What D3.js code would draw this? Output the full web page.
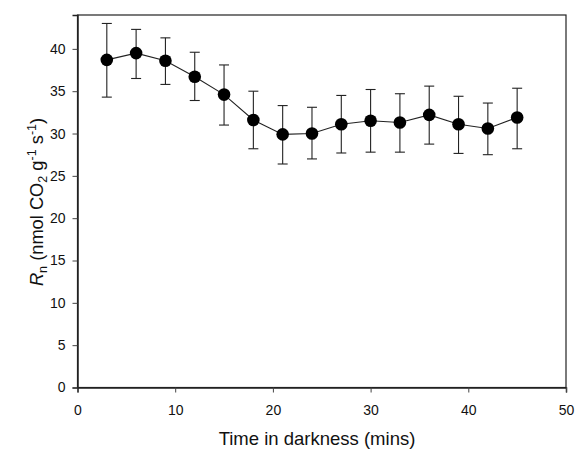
<!DOCTYPE html>
<html>
<head>
<meta charset="utf-8">
<script src="https://cdn.jsdelivr.net/npm/d3@7"></script>
<style>
  body { margin: 0; background: #fff; }
  svg text { font-family: "Liberation Sans", Arial, sans-serif; fill: #111; }
</style>
</head>
<body>
<div class="chart"></div>
<script>
const times = [3, 6, 9, 12, 15, 18, 21, 24, 27, 30, 33, 36, 39, 42, 45];
const rates = [38.7, 39.5, 38.6, 36.7, 34.6, 31.6, 29.9, 30.0, 31.1, 31.5, 31.3, 32.2, 31.1, 30.6, 31.9];
const errHigh = [43.0, 42.3, 41.3, 39.6, 38.1, 35.0, 33.3, 33.1, 34.5, 35.2, 34.7, 35.6, 34.4, 33.6, 35.35];
const errLow = [34.3, 36.5, 35.8, 33.9, 31.0, 28.2, 26.4, 27.0, 27.7, 27.8, 27.8, 28.75, 27.65, 27.5, 28.2];
const xTicks = [0, 10, 20, 30, 40, 50];
const yTicks = [0, 5, 10, 15, 20, 25, 30, 35, 40];

const width = 575, height = 449;
const margin = { top: 15, right: 9, bottom: 61.5, left: 77.5 };

const svg = d3.select(".chart")
  .append("svg")
  .attr("width", width)
  .attr("height", height);

const x = d3.scaleLinear()
  .domain([0, 50])
  .range([margin.left, width - margin.right]);

const y = d3.scaleLinear()
  .domain([0, 44])
  .range([height - margin.bottom, margin.top]);

const data = times.map((t, i) => ({ t: t, v: rates[i], hi: errHigh[i], lo: errLow[i] }));

// frame
svg.append("rect")
  .attr("x", x(0))
  .attr("y", y(44))
  .attr("width", x(50) - x(0))
  .attr("height", y(0) - y(44))
  .attr("fill", "none")
  .attr("stroke", "#222")
  .attr("stroke-width", 1.2);

// axes
svg.append("g")
  .attr("transform", "translate(0," + y(0) + ")")
  .call(d3.axisBottom(x).tickValues(xTicks).tickSize(5).tickPadding(13))
  .call(g => g.select(".domain").attr("stroke", "#222").attr("stroke-width", 1.5))
  .call(g => g.selectAll("line").attr("stroke", "#444"))
  .call(g => g.selectAll("text").attr("font-size", 14));

svg.append("g")
  .attr("transform", "translate(" + x(0) + ",0)")
  .call(d3.axisLeft(y).tickValues(yTicks).tickSize(5).tickPadding(7))
  .call(g => g.select(".domain").attr("stroke", "#222").attr("stroke-width", 1.5))
  .call(g => g.selectAll("line").attr("stroke", "#444"))
  .call(g => g.selectAll("text").attr("font-size", 14));

// axis titles
svg.append("text")
  .attr("x", 317)
  .attr("y", 445)
  .attr("text-anchor", "middle")
  .attr("font-size", 18.5)
  .text("Time in darkness (mins)");

const ylab = svg.append("text")
  .attr("transform", "translate(43,202) rotate(-90)")
  .attr("text-anchor", "middle")
  .attr("font-size", 18.3);
ylab.append("tspan").attr("font-style", "italic").text("R");
ylab.append("tspan").attr("font-size", 12.5).attr("dy", 4).text("n");
ylab.append("tspan").attr("dy", -4).text(" (nmol CO");
ylab.append("tspan").attr("font-size", 12.5).attr("dy", 4).text("2");
ylab.append("tspan").attr("dy", -4).text(" g");
ylab.append("tspan").attr("font-size", 12.5).attr("dy", -7).text("-1");
ylab.append("tspan").attr("dy", 7).text(" s");
ylab.append("tspan").attr("font-size", 12.5).attr("dy", -7).text("-1");
ylab.append("tspan").attr("dy", 7).text(")");

// error bars
const capW = 5;
const bars = svg.append("g").attr("stroke", "#222").attr("stroke-width", 1.1);
bars.selectAll(".err")
  .data(data)
  .enter()
  .append("line")
  .attr("x1", d => x(d.t)).attr("x2", d => x(d.t))
  .attr("y1", d => y(d.lo)).attr("y2", d => y(d.hi));
bars.selectAll(".capHi")
  .data(data)
  .enter()
  .append("line")
  .attr("x1", d => x(d.t) - capW).attr("x2", d => x(d.t) + capW)
  .attr("y1", d => y(d.hi)).attr("y2", d => y(d.hi));
bars.selectAll(".capLo")
  .data(data)
  .enter()
  .append("line")
  .attr("x1", d => x(d.t) - capW).attr("x2", d => x(d.t) + capW)
  .attr("y1", d => y(d.lo)).attr("y2", d => y(d.lo));

// connecting line
svg.append("path")
  .datum(data)
  .attr("fill", "none")
  .attr("stroke", "#222")
  .attr("stroke-width", 1.1)
  .attr("d", d3.line().x(d => x(d.t)).y(d => y(d.v)));

// points
svg.selectAll("circle")
  .data(data)
  .enter()
  .append("circle")
  .attr("cx", d => x(d.t))
  .attr("cy", d => y(d.v))
  .attr("r", 6.3)
  .attr("fill", "#000");
</script>
</body>
</html>
